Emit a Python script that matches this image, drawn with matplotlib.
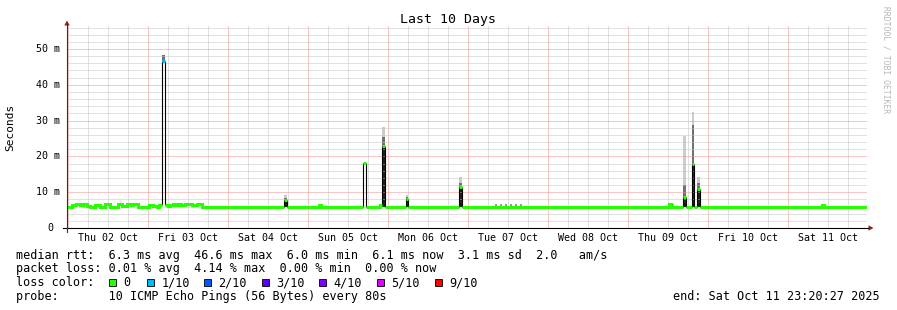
import numpy as np
import matplotlib.pyplot as plt
from matplotlib.patches import Rectangle, Polygon
from matplotlib.lines import Line2D
import matplotlib.transforms as mtransforms

# time axis: hours since graph start (Wed 01 Oct ~23:36), values in ms
med_t = [0.0, 1.5, 2.7, 3.9, 4.8, 6.0, 6.9, 8.4, 9.9, 11.4, 12.9, 15.3, 16.5, 18.0,
         19.2, 19.8, 21.3, 24.6, 25.8, 27.0, 27.6, 28.5, 29.4, 30.3, 30.9, 31.8,
         32.7, 33.3, 34.2, 35.4, 36.3, 37.5, 39.0, 40.5, 65.1, 65.85, 75.6, 76.2,
         88.8, 89.7, 93.9, 94.5, 95.25, 101.55, 102.25, 117.6, 118.45, 180.6,
         181.05, 181.5, 184.9, 185.65, 187.5, 188.2, 189.1, 189.9, 226.5, 227.1]
med_v = [6.0, 6.3, 6.6, 6.3, 6.6, 6.2, 6.0, 6.5, 6.0, 6.6, 6.0, 6.6, 6.2, 6.6,
         6.3, 6.7, 6.0, 6.5, 6.2, 6.0, 6.4, 46.6, 6.5, 6.2, 6.5, 6.7,
         6.4, 6.7, 6.3, 6.6, 6.7, 6.4, 6.7, 6.0, 7.8, 6.0, 6.3, 6.0,
         18.2, 6.0, 6.3, 22.9, 6.0, 8.0, 6.0, 11.5, 6.0, 6.6,
         6.3, 6.0, 8.7, 6.0, 18.0, 6.0, 10.8, 6.0, 6.3, 6.0]
t_end = 240.0

# segments with packet loss (start hour, loss level index)
lossy_t = [28.5]
lossy_lvl = [1]

# smoke around spikes
smoke_t0 = [28.5, 65.1, 94.5, 101.55, 117.6, 184.9, 187.5, 189.1]
smoke_t1 = [29.4, 65.85, 95.25, 102.25, 118.45, 185.65, 188.2, 189.9]
smoke_mid = [48.3, 8.5, 25.5, 8.6, 12.5, 12.0, 28.8, 12.5]
smoke_top = [48.3, 9.2, 28.1, 9.2, 14.3, 25.8, 32.3, 14.2]
solid_t0 = [65.1, 94.5, 101.55, 117.6, 184.9, 187.5, 189.1]

# small smoke specks on Tue
speck_t = [128.4, 129.9, 131.4, 132.9, 134.4, 135.9]
speck_v = [6.6, 6.6, 6.6, 6.6, 6.6, 6.6]

day_labels = ["Thu 02 Oct", "Fri 03 Oct", "Sat 04 Oct", "Sun 05 Oct", "Mon 06 Oct",
              "Tue 07 Oct", "Wed 08 Oct", "Thu 09 Oct", "Fri 10 Oct", "Sat 11 Oct"]
ytick_vals = [0, 10, 20, 30, 40, 50]
ytick_labels = ["  0", "10 m", "20 m", "30 m", "40 m", "50 m"]
loss_names = ["0", "1/10", "2/10", "3/10", "4/10", "5/10", "9/10"]
loss_colors = ["#26ff00", "#00b8ff", "#0059ff", "#5e00ff", "#7e00ff", "#dd00ff", "#ff0000"]

W, H = 897, 310
def fx(x): return x / W
def fy(y): return 1 - y / H

mono = "DejaVu Sans Mono"
fig = plt.figure(figsize=(W / 100, H / 100), dpi=100)
fig.patch.set_facecolor("white")
ax = fig.add_axes([fx(67), fy(228), 800 / W, 202 / H])
ax.set_xlim(0, t_end)
ax.set_ylim(0, 202 / 3.58)
for s in ax.spines.values():
    s.set_visible(False)

# grid
day0 = 0.4
gx = day0 + 6 * np.arange(40)
dots = (0, (1, 1))
ax.vlines([x for i, x in enumerate(gx) if i % 4], 0, 60, colors="#c4c4c4", lw=0.72, linestyles=dots)
ax.vlines(gx[::4], 0, 60, colors="#f09090", lw=0.72, linestyles=dots)
gy = np.arange(2, 57, 2)
ax.hlines(gy[gy % 10 != 0], 0, t_end, colors="#c4c4c4", lw=0.72, linestyles=dots)
ax.hlines(gy[gy % 10 == 0], 0, t_end, colors="#f09090", lw=0.72, linestyles=dots)

# smoke
t_arr = np.array(med_t)
v_arr = np.array(med_v)
def med_at(t):
    return v_arr[np.searchsorted(t_arr, t + 1e-6) - 1]
for t0, t1, m, top in zip(smoke_t0, smoke_t1, smoke_mid, smoke_top):
    base = med_at(t0)
    ax.fill_between([t0, t1], m, top, color="#cccccc", lw=0)
    ax.fill_between([t0, t1], base, m, color="#707070", lw=0)
for t0 in solid_t0:
    i = smoke_t0.index(t0)
    ax.fill_between([t0, smoke_t1[i]], 6.0, med_at(t0), color="#202020", lw=0)
for t, v in zip(speck_t, speck_v):
    ax.fill_between([t, t + 0.5], 6.0, v, color="#9a9a9a", lw=0)

# median: thin black risers at big jumps, thick loss-coloured step runs
ts = list(med_t) + [t_end]
for i in range(1, len(med_v)):
    if abs(med_v[i] - med_v[i - 1]) > 1:
        ax.vlines(med_t[i], min(med_v[i], med_v[i - 1]), max(med_v[i], med_v[i - 1]),
                  colors="black", lw=0.8)

def seg_color(t):
    if t in lossy_t:
        return loss_colors[lossy_lvl[lossy_t.index(t)]]
    return loss_colors[0]

start = 0
for i in range(1, len(med_v) + 1):
    if i == len(med_v) or abs(med_v[i] - med_v[i - 1]) > 1:
        xs = ts[start:i + 1]
        ys = med_v[start:i] + [med_v[i - 1]]
        ax.step(xs, ys, where="post", color=seg_color(med_t[start]), lw=2.2,
                solid_capstyle="butt", solid_joinstyle="miter")
        start = i

# ticks
ax.set_xticks(day0 + 12 + 24 * np.arange(10))
ax.set_xticklabels(day_labels, fontfamily=mono, fontsize=7.2)
ax.tick_params(axis="x", length=0, pad=3.5)
ax.set_yticks([])
ytr = mtransforms.blended_transform_factory(fig.transFigure, ax.transData)
for v, lbl in zip(ytick_vals, ytick_labels):
    ax.text(fx(35.5), v, lbl, transform=ytr, ha="left", va="center",
            fontfamily=mono, fontsize=7.2)

# axes lines and arrows
fig.add_artist(Line2D([fx(63), fx(868)], [fy(228), fy(228)], color="black", lw=0.8))
fig.add_artist(Line2D([fx(67), fx(67)], [fy(232), fy(24)], color="#333333", lw=0.8))
fig.add_artist(Polygon([(fx(64.3), fy(25.5)), (fx(69.7), fy(25.5)), (fx(67), fy(20.5))],
                       closed=True, color="#8b2020", lw=0))
fig.add_artist(Polygon([(fx(868.5), fy(225.3)), (fx(868.5), fy(230.7)), (fx(873.5), fy(228))],
                       closed=True, color="#8b2020", lw=0))

# texts
fig.text(fx(448), fy(19), "Last 10 Days", ha="center", va="center", fontfamily=mono, fontsize=9.5)
fig.text(fx(10.5), fy(127), "Seconds", rotation=90, ha="center", va="center", fontfamily=mono, fontsize=8)
fig.text(fx(886), fy(60), "RRDTOOL / TOBI OETIKER", rotation=270, ha="center", va="center",
         fontfamily=mono, fontsize=5.8, color="#b8b8b8")

fs = 8.5
fig.text(fx(16), fy(255), "median rtt:  6.3 ms avg  46.6 ms max  6.0 ms min  6.1 ms now  3.1 ms sd  2.0   am/s",
         ha="left", va="center", fontfamily=mono, fontsize=fs)
fig.text(fx(16), fy(268.5), "packet loss: 0.01 % avg  4.14 % max  0.00 % min  0.00 % now",
         ha="left", va="center", fontfamily=mono, fontsize=fs)
fig.text(fx(16), fy(282.5), "loss color:", ha="left", va="center", fontfamily=mono, fontsize=fs)
box_x = [108.5, 147, 203.5, 262, 318.5, 377, 435]
for bx, name, col in zip(box_x, loss_names, loss_colors):
    fig.add_artist(Rectangle((fx(bx), fy(286)), 7 / W, 7 / H, facecolor=col,
                             edgecolor="black", lw=0.6))
    fig.text(fx(bx + 14.5), fy(282.5), name, ha="left", va="center", fontfamily=mono, fontsize=fs)
fig.text(fx(16), fy(296.5), "probe:       10 ICMP Echo Pings (56 Bytes) every 80s",
         ha="left", va="center", fontfamily=mono, fontsize=fs)
fig.text(fx(880), fy(296.5), "end: Sat Oct 11 23:20:27 2025", ha="right", va="center",
         fontfamily=mono, fontsize=fs)

fig.savefig("out.png", dpi=100)
plt.close()
